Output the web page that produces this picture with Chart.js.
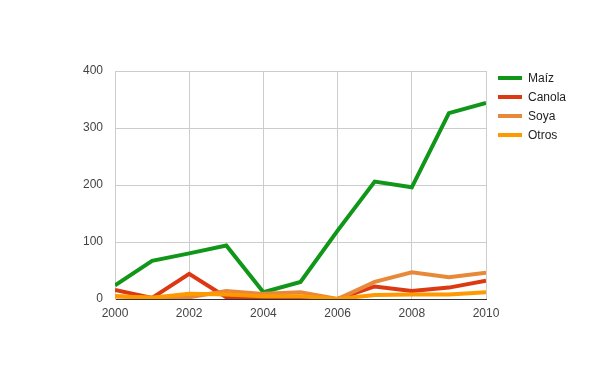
<!DOCTYPE html>
<html>
<head>
<meta charset="utf-8">
<script src="https://cdn.jsdelivr.net/npm/chart.js@4"></script>
<style>
  body { margin: 0; background: #fff; }
  #wrap { position: relative; width: 600px; height: 371px; }
  #legend { position: absolute; left: 498px; top: 70px; font: 12px Arial, "Liberation Sans", sans-serif; color: #222; }
  #legend div { height: 19px; line-height: 16px; white-space: nowrap; }
  #legend span.sw { display: inline-block; width: 24px; height: 4px; vertical-align: middle; margin-right: 6px; position: relative; top: -1px; }
</style>
</head>
<body>
<div id="wrap">
  <canvas id="chart" width="600" height="371"></canvas>
  <div id="legend"></div>
</div>
<script>
const years = [2000, 2001, 2002, 2003, 2004, 2005, 2006, 2007, 2008, 2009, 2010];
const seriesNames = ['Maíz', 'Canola', 'Soya', 'Otros'];
const maiz = [24, 67, 80, 94, 12, 30, 120, 206, 196, 326, 344];
const canola = [16, 2, 44, 3, 2, 1, 0, 22, 14, 20, 32];
const soya = [5, 2, 3, 14, 9, 12, 0, 30, 47, 38, 46];
const otros = [5, 2, 9, 8, 5, 5, 0, 7, 8, 8, 12];
const colors = ['#109618', '#dc3912', '#e8893a', '#ff9900'];

const allValues = [maiz, canola, soya, otros];

// later series sit on top, like the original
const datasets = allValues.map((vals, i) => ({
  label: seriesNames[i],
  data: vals.map((v, j) => ({ x: years[j], y: v })),
  borderColor: colors[i],
  backgroundColor: colors[i],
  borderWidth: 4,
  pointRadius: 0,
  tension: 0,
  order: allValues.length - i
}));

const legend = document.getElementById('legend');
seriesNames.forEach((name, i) => {
  let row = document.createElement('div');
  row.innerHTML = `<span class="sw" style="background:${colors[i]}"></span>${name}`;
  legend.appendChild(row);
});

const font = { family: 'Arial, "Liberation Sans", sans-serif', size: 12 };

new Chart(document.getElementById('chart'), {
  type: 'line',
  data: { datasets: datasets },
  options: {
    responsive: false,
    animation: false,
    layout: { padding: { left: 0, top: 71, right: 114, bottom: 0 } },
    plugins: { legend: { display: false }, tooltip: { enabled: false } },
    scales: {
      x: {
        type: 'linear',
        min: 2000,
        max: 2010,
        afterFit: (scale) => { scale.height = 72; },
        ticks: { stepSize: 2, color: '#444', font: font, padding: 7, maxRotation: 0,
          callback: (v) => String(v) },
        grid: { color: '#cccccc', drawTicks: false },
        border: { color: '#333333', width: 1 }
      },
      y: {
        min: 0,
        max: 400,
        afterFit: (scale) => { scale.width = 115; },
        ticks: { stepSize: 100, color: '#444', font: font, padding: 12 },
        grid: { color: '#cccccc', drawTicks: false },
        border: { color: '#cccccc' }
      }
    }
  }
});
</script>
</body>
</html>
